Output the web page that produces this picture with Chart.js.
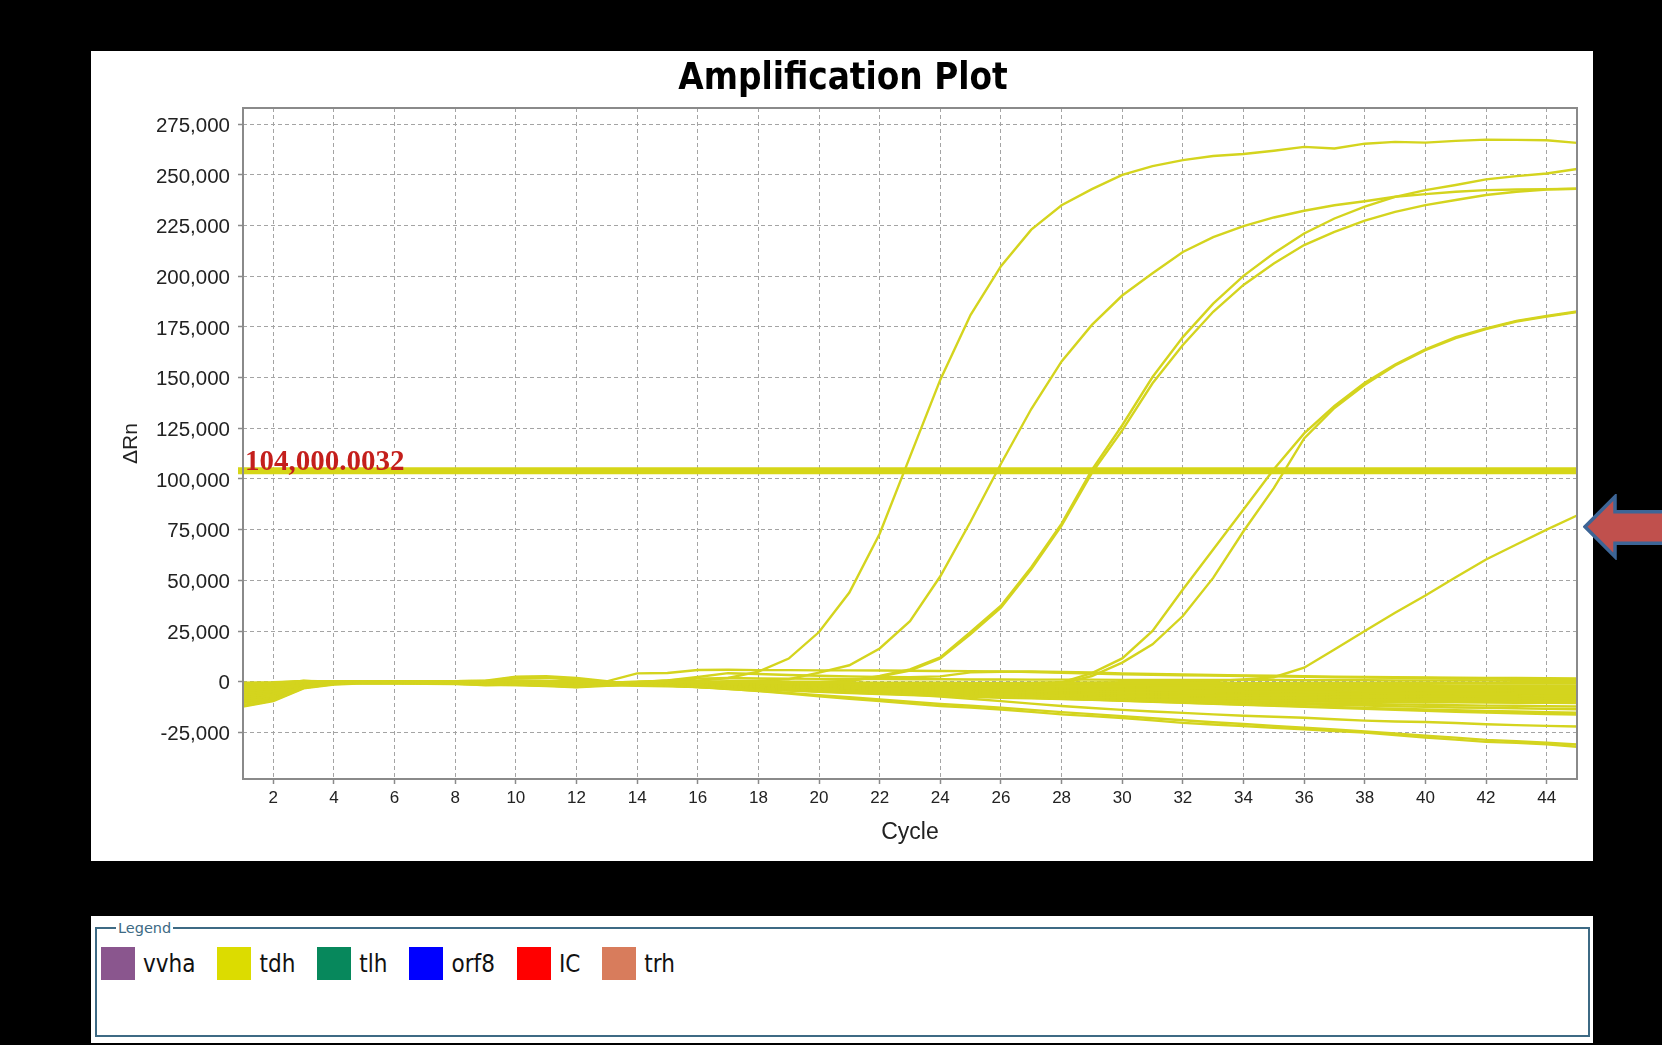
<!DOCTYPE html>
<html>
<head>
<meta charset="utf-8">
<title>Amplification Plot</title>
<script src="https://cdn.jsdelivr.net/npm/chart.js@4.4.1/dist/chart.umd.min.js"></script>
<style>
  html, body { margin: 0; padding: 0; background: #000; }
  body { width: 1662px; height: 1045px; position: relative; overflow: hidden; }
  #plotPanel { position: absolute; left: 91px; top: 51px; width: 1502px; height: 810px; background: #fff; }
  #legendPanel { position: absolute; left: 91px; top: 916px; width: 1502px; height: 127px; background: #fff; }
  #legendBox { position: absolute; left: 4px; top: 11px; width: 1495px; height: 110px; box-sizing: border-box; border: 2px solid #3d6a84; }
  #legendTitle { position: absolute; left: 25px; top: 3px; padding: 0 2px; background: #fff; color: #3d6a84;
                 font: 14.5px 'DejaVu Sans', sans-serif; line-height: 18px; }
  #legendItems { position: absolute; left: 10px; top: 31px; display: flex; align-items: center; }
  .legend-item { display: flex; align-items: center; margin-right: 22px; }
  .legend-swatch { width: 34px; height: 33px; margin-right: 8px; }
  .legend-label { font: 24px 'DejaVu Sans Condensed', 'DejaVu Sans', sans-serif; color: #111; }
  #pointer { position: absolute; left: 1583px; top: 494px; }
</style>
</head>
<body>
<div id="plotPanel"><canvas id="ampChart"></canvas></div>
<div id="legendPanel">
  <div id="legendBox"></div>
  <div id="legendTitle">Legend</div>
  <div id="legendItems"></div>
</div>
<svg id="pointer" width="79" height="66" viewBox="0 0 79 66">
  <path d="M2,32.7 L32,2.7 L32,17.7 L84,17.7 L84,49.3 L32,49.3 L32,62.7 Z" fill="#c0504d" stroke="#3d6596" stroke-width="3.5" stroke-linejoin="miter"/>
</svg>
<script>
document.addEventListener('DOMContentLoaded', function () {

    // ==========================================
    // 1. DATA (delta Rn per cycle)
    // ==========================================
    const cycles = [1, 2, 3, 4, 5, 6, 7, 8, 9, 10, 11, 12, 13, 14, 15,
        16, 17, 18, 19, 20, 21, 22, 23, 24, 25, 26, 27, 28, 29, 30,
        31, 32, 33, 34, 35, 36, 37, 38, 39, 40, 41, 42, 43, 44, 45];

    const xTickValues = [2, 4, 6, 8, 10, 12, 14, 16, 18, 20, 22, 24, 26, 28, 30, 32, 34, 36, 38, 40, 42, 44];
    const yTickValues = [-25000, 0, 25000, 50000, 75000, 100000, 125000, 150000, 175000, 200000, 225000, 250000, 275000];

    const thresholdValue = 104000.0032;

    const targetNames = ['vvha', 'tdh', 'tlh', 'orf8', 'IC', 'trh'];
    const targetColors = ['#8a568e', '#dcdc00', '#07885c', '#0000ff', '#ff0000', '#d87c5c'];

    // amplified wells (tdh)
    const amp1 = [-3000, -1500, 500, -500, 0, -300, 200, 300, 400, -800, -1200, -1000, -500, 0, 300,
        500, 1800, 5000, 11400, 24500, 44000, 73000, 111000, 149000, 181000, 205000, 223000, 235000, 243000, 250000,
        254300, 257300, 259300, 260300, 261900, 263800, 263000, 265400, 266300, 265900, 266800, 267400, 267300, 267100, 265800];
    const amp2 = [-5000, -3000, 0, -200, 200, 0, -300, -500, 200, 500, 300, -500, -800, -300, -200,
        0, 300, 500, 1200, 4500, 8100, 16400, 29900, 52000, 79000, 107500, 134500, 158000, 176000, 190500,
        201500, 212000, 219300, 224700, 229000, 232300, 235000, 237000, 239200, 240500, 241700, 242500, 242800, 243000, 243200];
    const amp3a = [-7000, -5000, -500, 0, 300, 0, 200, 0, -300, -1000, -1500, -1200, -600, -200, -400,
        -600, -400, -300, 0, 0, 400, 2800, 6100, 12000, 24500, 37500, 56500, 78000, 104500, 126500,
        150300, 170000, 186500, 200200, 211300, 221100, 228500, 234300, 239200, 242500, 245000, 247800, 249400, 250700, 252900];
    const amp3b = [-8000, -6000, -1000, -200, 0, -200, 0, -300, -200, -500, -800, -1500, -1000, -500, -800,
        -1000, -800, -600, -400, -200, 300, 2500, 5500, 11500, 23500, 36500, 55500, 77000, 103000, 124000,
        147200, 166100, 182500, 195700, 206300, 215400, 221900, 227400, 231800, 235100, 237600, 240100, 241700, 242800, 243200];
    const amp4a = [-9000, -7000, -1500, -500, 0, -500, -300, -600, -800, 0, 300, -300, -800, -1200, -1500,
        -1800, -2000, -2200, -2300, -2400, -2300, -2200, -2000, -1800, -1500, -1200, -800, -300, 4200, 11500,
        25000, 45500, 65200, 84900, 104800, 122500, 136000, 147500, 156500, 164000, 170000, 174300, 178000, 180400, 182600];
    const amp4b = [-10000, -8500, -2000, -800, -300, -600, -800, -1000, -1200, -1500, -1800, -2000, -1800, -2000, -2300,
        -2600, -2900, -3100, -3300, -3400, -3500, -3500, -3400, -3200, -3000, -2700, -2200, -1000, 2800, 9400,
        18400, 32400, 51200, 74200, 95500, 120000, 135000, 146500, 156000, 163500, 169500, 173900, 177700, 180100, 182300];
    const amp5 = [-6000, -4500, -900, -100, 100, -100, 0, 100, 300, -200, -400, -700, -400, -300, -500,
        -600, -700, -800, -800, -900, -900, -900, -900, -800, -800, -700, -600, -500, -400, -300,
        -200, 0, 300, 1100, 2200, 6900, 15900, 25000, 34000, 42500, 51500, 60300, 67700, 75000, 82000];

    // flat wells that step up a little
    const flatHigh1 = [-1000, -500, 400, 100, 300, 200, 100, 300, 500, 2500, 2700, 1800, 200, 4100, 4300,
        5800, 5900, 5700, 5700, 5600, 5600, 5500, 5400, 5300, 5200, 5100, 4800, 4400, 4000, 3700,
        3400, 3200, 3000, 2800, 2600, 2400, 2200, 2100, 1900, 1800, 1600, 1500, 1400, 1300, 1200];
    const flatHigh2 = [-3000, -2000, 100, 0, 200, 100, -100, 0, 200, 400, 300, -200, -600, -300, 600,
        2300, 4200, 3800, 3300, 2900, 2600, 2300, 2200, 2600, 4600, 4900, 5000, 4800, 4500, 4100,
        3800, 3600, 3300, 3100, 2900, 2700, 2500, 2400, 2200, 2100, 2000, 1900, 1800, 1700, 1600];

    // negative wells, the dense band just under zero
    const drift01 = [-500, -300, 300, 200, 100, 0, 100, 300, 400, 600, 500, 300, -200, -100, 600,
        1500, 1800, 1600, 1500, 1400, 1300, 1300, 1200, 1200, 1100, 1100, 1000, 1000, 1000, 900,
        900, 900, 800, 800, 800, 700, 700, 700, 600, 600, 600, 600, 500, 500, 500];
    const drift02 = [-1500, -800, 200, 0, 200, -100, 0, 200, 300, 100, -300, -500, -400, -100, -100,
        -200, -200, -300, -300, -400, -400, -500, -500, -500, -600, -600, -600, -600, -700, -700,
        -700, -700, -700, -700, -700, -700, -800, -800, -800, -800, -800, -800, -800, -800, -800];
    const drift03 = [-2500, -1800, -200, -300, 0, -200, -100, 0, 100, 2200, 2400, 1000, -300, -200, -300,
        -400, -500, -600, -800, -900, -1000, -1000, -1100, -1200, -1300, -1400, -1400, -1500, -1500, -1500,
        -1600, -1600, -1600, -1600, -1700, -1700, -1700, -1700, -1700, -1700, -1800, -1800, -1800, -1800, -1800];
    const drift04 = [-3500, -2500, -300, -200, 100, -300, -400, -300, -200, -400, -600, -700, -600, -300, -400,
        -600, -800, -900, -1100, -1200, -1400, -1500, -1600, -1700, -1800, -2000, -2000, -2100, -2200, -2200,
        -2300, -2300, -2300, -2400, -2400, -2400, -2400, -2500, -2500, -2500, -2500, -2500, -2600, -2600, -2600];
    const drift05 = [-4500, -3500, -600, -400, -100, -200, -500, -700, -600, 1800, 2000, 800, -400, -300, -600,
        -800, -1000, -1200, -1400, -1600, -1800, -2000, -2100, -2300, -2400, -2600, -2700, -2800, -2900, -2900,
        -3000, -3000, -3100, -3100, -3100, -3200, -3200, -3200, -3300, -3300, -3300, -3300, -3400, -3400, -3400];
    const drift06 = [-5500, -4500, -800, -300, 0, -400, -600, -800, -1000, -1200, -1500, -1800, -1200, -400, -700,
        -1000, -1300, -1500, -1800, -2000, -2200, -2400, -2600, -2800, -3000, -3200, -3300, -3400, -3500, -3600,
        -3700, -3700, -3800, -3800, -3900, -3900, -3900, -4000, -4000, -4100, -4100, -4100, -4200, -4200, -4200];
    const drift07 = [-6500, -5000, -1000, -500, -200, -100, -300, -200, 0, 300, 0, -600, -800, -500, -900,
        -1200, -1500, -1800, -2100, -2400, -2700, -2900, -3200, -3400, -3600, -3800, -3900, -4100, -4200, -4300,
        -4400, -4500, -4500, -4600, -4600, -4700, -4700, -4800, -4800, -4900, -4900, -4900, -5000, -5000, -5000];
    const drift08 = [-7500, -6000, -1200, -600, -300, -400, -200, -500, -800, -600, -900, -1300, -1000, -600, -1000,
        -1400, -1700, -2100, -2400, -2800, -3100, -3400, -3700, -3900, -4100, -4400, -4500, -4700, -4900, -5000,
        -5100, -5200, -5200, -5300, -5300, -5400, -5500, -5500, -5600, -5600, -5700, -5700, -5700, -5800, -5800];
    const drift09 = [-8500, -7000, -1500, -700, -400, -300, -100, -300, -500, -300, -200, -900, -1100, -700, -1100,
        -1600, -2000, -2300, -2700, -3100, -3400, -3800, -4100, -4400, -4600, -4900, -5100, -5300, -5500, -5600,
        -5700, -5800, -5900, -5900, -6000, -6000, -6100, -6200, -6200, -6300, -6300, -6400, -6400, -6500, -6500];
    const drift10 = [-9500, -7600, -1800, -800, -500, -600, -700, -900, -1100, -1300, -1600, -2000, -1400, -700, -1200,
        -1800, -2200, -2600, -3100, -3500, -3900, -4200, -4600, -4900, -5200, -5500, -5700, -5900, -6100, -6300,
        -6400, -6500, -6600, -6600, -6700, -6800, -6900, -6900, -7000, -7100, -7100, -7200, -7200, -7300, -7300];
    const drift11 = [-10500, -8000, -2200, -900, -400, -500, -400, -600, -700, -500, -800, -1500, -1300, -800, -1400,
        -1900, -2400, -2900, -3400, -3900, -4300, -4700, -5100, -5400, -5800, -6100, -6300, -6600, -6800, -7000,
        -7100, -7200, -7300, -7400, -7500, -7500, -7600, -7700, -7800, -7900, -7900, -7900, -8000, -8100, -8100];
    const drift12 = [-11500, -8700, -2600, -1000, -600, -700, -800, -1000, -1300, -1000, -1200, -1800, -1500, -900, -1500,
        -2100, -2700, -3200, -3700, -4300, -4700, -5200, -5600, -6000, -6300, -6700, -6900, -7200, -7500, -7700,
        -7800, -7900, -8000, -8100, -8200, -8300, -8400, -8500, -8500, -8600, -8700, -8700, -8800, -8900, -8900];
    const drift13 = [-12000, -9200, -3000, -1200, -700, -800, -600, -900, -1000, -1400, -1900, -2400, -1800, -1000, -1600,
        -2300, -2900, -3500, -4100, -4700, -5100, -5600, -6100, -6500, -6900, -7300, -7600, -7900, -8100, -8300,
        -8500, -8600, -8700, -8800, -8900, -9000, -9100, -9200, -9300, -9400, -9500, -9500, -9600, -9700, -9700];
    const drift14 = [-12300, -9600, -3300, -1400, -800, -900, -1000, -1200, -1400, -1700, -2200, -2800, -2000, -1100, -1800,
        -2500, -3200, -3800, -4400, -5000, -5600, -6100, -6600, -7000, -7500, -7900, -8200, -8500, -8800, -9000,
        -9200, -9300, -9500, -9600, -9700, -9800, -9900, -10000, -10100, -10200, -10200, -10300, -10400, -10400, -10500];

    // negative wells drifting further down
    const low01 = [-9000, -7500, -2000, -700, -300, -400, -300, -500, -700, -900, -1100, -1400, -1000, -900, -1500,
        -2000, -2500, -3000, -3500, -4000, -4500, -5000, -5500, -6000, -6500, -7000, -7400, -7900, -8300, -8700,
        -9000, -9400, -9700, -10000, -10300, -10600, -10800, -11000, -11200, -11400, -11600, -11800, -11900, -12100, -12200];
    const low02 = [-7000, -5500, -1200, -400, -200, -300, -500, -800, -1000, -1200, -1500, -1900, -1200, -1000, -1600,
        -2200, -2700, -3200, -3700, -4200, -4700, -5200, -5700, -6200, -6700, -7200, -7700, -8200, -8600, -9000,
        -9400, -9800, -10200, -10600, -10900, -11200, -11500, -11800, -12100, -12400, -12700, -12900, -13100, -13400, -13600];
    const low03 = [-6000, -4800, -1000, -600, -400, -600, -800, -1100, -1300, -1000, -1300, -2000, -1500, -1100, -1700,
        -2300, -2800, -3300, -3800, -4300, -4800, -5300, -5800, -6300, -6800, -7300, -7800, -8300, -8800, -9300,
        -9800, -10300, -10800, -11300, -11700, -12100, -12500, -12900, -13300, -13700, -14000, -14400, -14700, -15000, -15300];
    const low04 = [-5000, -4000, -800, -300, -100, -200, -300, -400, -600, -1400, -1800, -2400, -1600, -1200, -1800,
        -2400, -2900, -3400, -3900, -4400, -4900, -5400, -5900, -6400, -6900, -7400, -7900, -8400, -8900, -9400,
        -9900, -10400, -10900, -11400, -11900, -12400, -12900, -13400, -13900, -14400, -14800, -15200, -15600, -15900, -16200];
    const low05 = [-4000, -3500, -600, -200, 0, -300, -500, -900, -1800, -1500, -1800, -2600, -1400, -1200, -1900,
        -2600, -3200, -3800, -4300, -4800, -5300, -5800, -6400, -7300, -8400, -9600, -10800, -12000, -13000, -13900,
        -14700, -15400, -16100, -16800, -17300, -17800, -18500, -19200, -19600, -19900, -20400, -21000, -21400, -21800, -22100];
    const low06 = [-2000, -1500, 0, 200, 100, 0, -100, -200, -300, -600, -1000, -1500, -900, -1100, -1900,
        -2700, -3600, -4500, -5500, -6600, -7700, -8800, -9900, -11000, -11900, -12800, -13900, -15000, -16000, -17000,
        -18000, -19000, -20000, -20900, -21800, -22700, -23600, -24500, -25500, -26600, -27600, -28700, -29400, -30100, -31000];
    const low07 = [-3000, -2500, -300, 0, 200, -100, -200, -300, -500, -300, -700, -1200, -500, -800, -1600,
        -2500, -3500, -4600, -5800, -7200, -8400, -9600, -10800, -12000, -12800, -13700, -14900, -16100, -17000, -17900,
        -19100, -20300, -21100, -21900, -22700, -23500, -24300, -25100, -26300, -27500, -28600, -29700, -30200, -30900, -32100];

    const curves = [
        drift01, drift02, drift03, drift04, drift05, drift06, drift07, drift08, drift09, drift10,
        drift11, drift12, drift13, drift14, low01, low02, low03, low04, low05, low06, low07,
        flatHigh1, flatHigh2, amp5, amp4a, amp4b, amp3a, amp3b, amp2, amp1
    ];

    // ==========================================
    // 2. STYLE
    // ==========================================
    const curveColor = 'rgb(212, 212, 30)';
    const thresholdColor = 'rgb(214, 214, 24)';
    const gridColor = '#a4a4a4';
    const frameColor = '#8a8a8a';
    const labelFont = 'Liberation Sans';
    const chartTitle = 'Amplification Plot';

    // title, threshold line + its label, plot frame and the rotated y title
    const plotDecor = {
        id: 'plotDecor',
        afterDatasetsDraw(chart) {
            const { ctx, chartArea: area, scales: { y } } = chart;
            const yT = y.getPixelForValue(thresholdValue);

            ctx.save();
            ctx.strokeStyle = thresholdColor;
            ctx.lineWidth = 7;
            ctx.beginPath();
            ctx.moveTo(area.left - 5, yT);
            ctx.lineTo(area.right + 1, yT);
            ctx.stroke();

            const label = thresholdValue.toLocaleString('en-US', { minimumFractionDigits: 4 });
            ctx.font = 'bold 29px "Liberation Serif"';
            const w = ctx.measureText(label).width;
            ctx.fillStyle = '#ffffff';
            ctx.fillRect(area.left + 1, yT - 23, w + 3, 19);
            ctx.fillStyle = '#c41f1c';
            ctx.textBaseline = 'alphabetic';
            ctx.fillText(label, area.left + 2, yT - 1);

            ctx.strokeStyle = frameColor;
            ctx.lineWidth = 2;
            ctx.strokeRect(area.left, area.top, area.right - area.left, area.bottom - area.top);
            ctx.restore();
        },
        afterDraw(chart) {
            const { ctx, chartArea: area, width } = chart;
            ctx.save();
            ctx.font = "bold 36.5px 'DejaVu Sans Condensed', 'DejaVu Sans', sans-serif";
            ctx.fillStyle = '#000';
            ctx.textAlign = 'center';
            ctx.textBaseline = 'alphabetic';
            ctx.fillText(chartTitle, width / 2 + 1, area.top - 19);

            ctx.translate(area.left - 112, (area.top + area.bottom) / 2);
            ctx.rotate(-Math.PI / 2);
            ctx.font = '21px "' + labelFont + '"';
            ctx.fillStyle = '#222';
            ctx.textBaseline = 'middle';
            ctx.fillText('\u0394Rn', 0, 0);
            ctx.restore();
        }
    };

    // ==========================================
    // 3. CHART
    // ==========================================
    const ctx = document.getElementById('ampChart').getContext('2d');
    new Chart(ctx, {
        type: 'line',
        data: {
            datasets: curves.map(function (values) {
                return {
                    data: values.map(function (v, i) { return { x: cycles[i], y: v }; }),
                    borderColor: curveColor,
                    borderWidth: 2.4,
                    pointRadius: 0,
                    tension: 0,
                    fill: false
                };
            })
        },
        options: {
            responsive: true,
            maintainAspectRatio: false,
            animation: false,
            devicePixelRatio: 1,
            layout: { padding: { left: 0, right: 16, top: 57, bottom: 0 } },
            plugins: {
                legend: { display: false },
                tooltip: { enabled: false },
                title: { display: false }
            },
            scales: {
                x: {
                    type: 'linear',
                    min: 1,
                    max: 45,
                    afterBuildTicks: function (scale) { scale.ticks = xTickValues.map(function (v) { return { value: v }; }); },
                    afterFit: function (scale) { scale.height = 82; },
                    ticks: { autoSkip: false, maxRotation: 0, padding: 4, color: '#222', font: { family: labelFont, size: 17 } },
                    grid: { color: gridColor, lineWidth: 1, tickLength: 5, tickColor: frameColor, tickWidth: 1.5, tickBorderDash: [] },
                    border: { display: false, dash: [4, 3] },
                    title: { display: true, text: 'Cycle', color: '#222', font: { family: labelFont, size: 23 }, padding: { top: 0, bottom: 15 } }
                },
                y: {
                    min: -48000,
                    max: 283000,
                    afterBuildTicks: function (scale) { scale.ticks = yTickValues.map(function (v) { return { value: v }; }); },
                    afterFit: function (scale) { scale.width = 152; },
                    ticks: {
                        padding: 8,
                        labelOffset: 2,
                        color: '#222',
                        font: { family: labelFont, size: 20.5 },
                        callback: function (v) { return v.toLocaleString('en-US'); }
                    },
                    grid: { color: gridColor, lineWidth: 1, tickLength: 5, tickColor: frameColor, tickWidth: 1.5, tickBorderDash: [] },
                    border: { display: false, dash: [4, 3] }
                }
            }
        },
        plugins: [plotDecor]
    });

    // ==========================================
    // 4. TARGET LEGEND (separate panel under the plot)
    // ==========================================
    const legendItems = document.getElementById('legendItems');
    targetNames.forEach(function (name, i) {
        const item = document.createElement('div');
        item.className = 'legend-item';
        const swatch = document.createElement('div');
        swatch.className = 'legend-swatch';
        swatch.style.background = targetColors[i];
        const text = document.createElement('span');
        text.className = 'legend-label';
        text.textContent = name;
        item.appendChild(swatch);
        item.appendChild(text);
        legendItems.appendChild(item);
    });

});
</script>
</body>
</html>
